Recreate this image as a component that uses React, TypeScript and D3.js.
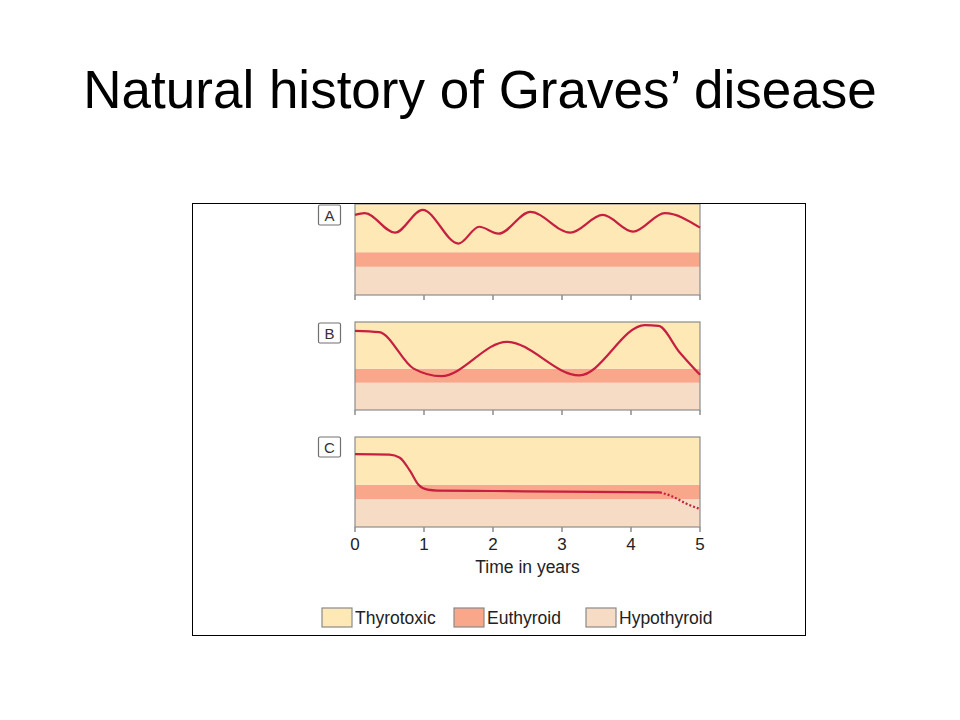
import * as d3 from 'd3'

type Pt = [number, number]

// x = years, y = normalised level (0 = bottom of panel, 1 = top)
const seriesA: Pt[] = [
  [0, 0.88], [0.14, 0.9], [0.58, 0.685], [0.98, 0.935], [1.5, 0.565], [1.8, 0.75],
  [2.08, 0.674], [2.54, 0.913], [3.12, 0.685], [3.59, 0.88], [4.03, 0.696], [4.49, 0.9],
  [5, 0.74],
]
const seriesB: Pt[] = [
  [0, 0.9], [0.35, 0.885], [0.85, 0.47], [1.25, 0.385], [2.2, 0.775], [3.25, 0.393],
  [4.2, 0.965], [4.4, 0.955], [4.7, 0.66], [5, 0.4],
]
const seriesC: Pt[] = [
  [0, 0.81], [0.5, 0.805], [0.65, 0.77], [0.8, 0.62], [0.92, 0.47], [1.05, 0.415],
  [1.2, 0.405], [2, 0.4], [3, 0.393], [4.42, 0.385],
]
const seriesCDotted: Pt[] = [[4.42, 0.385], [4.6, 0.34], [4.8, 0.26], [5, 0.2]]

const panelLabels = ['A', 'B', 'C']
const xTicks = [0, 1, 2, 3, 4, 5]
const bandNames = ['Hypothyroid', 'Euthyroid', 'Thyrotoxic']
const bandEdges = [0, 0.31, 0.47, 1]
const legendOrder = ['Thyrotoxic', 'Euthyroid', 'Hypothyroid']

const bandColor: Record<string, string> = {
  Thyrotoxic: '#fee8b6',
  Euthyroid: '#f8a78b',
  Hypothyroid: '#f6dcc5',
}
const curveColor = '#c61f40'
const axisGray = '#8c8c8c'

const panels = [
  { top: 204, bottom: 295, label: 'A', series: seriesA, dotted: null as Pt[] | null, labelY: 205 },
  { top: 322, bottom: 410, label: 'B', series: seriesB, dotted: null as Pt[] | null, labelY: 323 },
  { top: 437, bottom: 527, label: 'C', series: seriesC, dotted: seriesCDotted, labelY: 437 },
]

export default function App() {
  const x = d3.scaleLinear().domain([0, 5]).range([355, 700])
  const font = 'Liberation Sans, Arial, Helvetica, sans-serif'

  return (
    <svg
      width={960}
      height={720}
      style={{ position: 'absolute', left: 0, top: 0, background: '#fff' }}
      fontFamily={font}
    >
      <text x={480} y={108} textAnchor="middle" fontSize={53} fill="#000">
        Natural history of Graves’ disease
      </text>

      {panels.map((p, pi) => {
        const y = d3.scaleLinear().domain([0, 1]).range([p.bottom, p.top])
        const line = d3
          .line<Pt>()
          .x((d) => x(d[0]))
          .y((d) => y(d[1]))
          .curve(d3.curveMonotoneX)
        return (
          <g key={p.label}>
            {bandNames.map((b, i) => (
              <rect
                key={b}
                x={x(0)}
                y={y(bandEdges[i + 1])}
                width={x(5) - x(0)}
                height={y(bandEdges[i]) - y(bandEdges[i + 1])}
                fill={bandColor[b]}
              />
            ))}
            <rect
              x={x(0)}
              y={y(1)}
              width={x(5) - x(0)}
              height={y(0) - y(1)}
              fill="none"
              stroke={axisGray}
              strokeWidth={1.2}
            />
            {xTicks.map((t) => (
              <line
                key={t}
                x1={x(t)}
                x2={x(t)}
                y1={y(0)}
                y2={y(0) + 5}
                stroke={axisGray}
                strokeWidth={1.5}
              />
            ))}
            <path d={line(p.series) ?? ''} fill="none" stroke={curveColor} strokeWidth={2.2} />
            {p.dotted && (
              <path
                d={line(p.dotted) ?? ''}
                fill="none"
                stroke={curveColor}
                strokeWidth={2.2}
                strokeDasharray="2,2"
              />
            )}
            <rect
              x={318.5}
              y={p.labelY}
              width={22}
              height={20}
              rx={1.5}
              fill="#fff"
              stroke="#707070"
              strokeWidth={1.2}
            />
            <text x={329.5} y={p.labelY + 15.5} textAnchor="middle" fontSize={15} fill="#333">
              {panelLabels[pi]}
            </text>
            {pi === panels.length - 1 &&
              xTicks.map((t) => (
                <text key={t} x={x(t)} y={550} textAnchor="middle" fontSize={17} fill="#222">
                  {t}
                </text>
              ))}
          </g>
        )
      })}

      <text x={x(2.5)} y={573} textAnchor="middle" fontSize={17.5} fill="#222">
        Time in years
      </text>

      {legendOrder.map((name, i) => {
        const bx = [322, 454, 586][i]
        return (
          <g key={name}>
            <rect x={bx} y={608} width={30} height={19} fill={bandColor[name]} stroke="#8a8a8a" strokeWidth={1.2} />
            <text x={bx + 33} y={623.5} fontSize={17.5} fill="#222">
              {name}
            </text>
          </g>
        )
      })}

      <rect x={192.5} y={203.5} width={613} height={432} fill="none" stroke="#000" strokeWidth={1} />
    </svg>
  )
}
